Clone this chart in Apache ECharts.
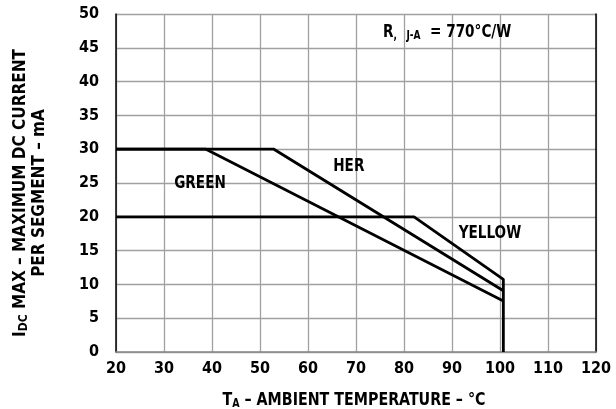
<!DOCTYPE html>
<html><head><meta charset="utf-8">
<script src="https://cdn.jsdelivr.net/npm/echarts@6/dist/echarts.min.js"></script>
<style>html,body{margin:0;padding:0;background:#fff}#c{width:616px;height:409px}</style>
</head><body><div id="c"></div>
<script>
const FONT = "'Liberation Sans Narrow', 'DejaVu Sans Condensed', sans-serif";
const xTicks = [20, 30, 40, 50, 60, 70, 80, 90, 100, 110, 120];
const yTicks = [0, 5, 10, 15, 20, 25, 30, 35, 40, 45, 50];
const herX = [20, 52.9, 100.7];
const herY = [30, 30, 9.07];
const greenX = [20, 38.75, 100.7];
const greenY = [30, 30, 7.54];
const yellowX = [20, 82.1, 100.7, 100.7];
const yellowY = [20, 20, 10.75, 0];
const labels = [
  {name: 'HER', x: 68.5, y: 27.4},
  {name: 'GREEN', x: 37.5, y: 24.9},
  {name: 'YELLOW', x: 97.9, y: 17.6}
];
const rLabelPos = {x: 89, y: 47.3};
const zip = (xs, ys) => xs.map((x, i) => [x, ys[i]]);
const lineStyle = {color: '#000', width: 2.8};
const chart = echarts.init(document.getElementById('c'), null, {renderer: 'canvas'});
chart.setOption({
  animation: false,
  textStyle: {fontFamily: FONT},
  grid: {left: 116, right: 20, top: 14, bottom: 57},
  xAxis: {
    type: 'value', min: xTicks[0], max: xTicks[xTicks.length - 1], interval: 10,
    axisLine: {lineStyle: {color: '#888', width: 1.5}},
    axisTick: {show: false},
    axisLabel: {color: '#000', fontFamily: FONT, fontWeight: 'bold', fontSize: 16, margin: 9},
    splitLine: {lineStyle: {color: '#a0a0a0', width: 1.3}}
  },
  yAxis: [{
    type: 'value', min: yTicks[0], max: yTicks[yTicks.length - 1], interval: 5,
    axisLine: {show: true, lineStyle: {color: '#000', width: 1.5}},
    axisTick: {show: false},
    axisLabel: {color: '#000', fontFamily: FONT, fontWeight: 'bold', fontSize: 16, margin: 17},
    splitLine: {lineStyle: {color: '#a0a0a0', width: 1.3}}
  }, {
    type: 'value', min: 0, max: 50, position: 'right',
    axisLine: {show: true, lineStyle: {color: '#000', width: 1.5}},
    axisTick: {show: false}, axisLabel: {show: false}, splitLine: {show: false}
  }],
  series: [
    {type: 'line', data: zip(herX, herY), symbol: 'none', lineStyle},
    {type: 'line', data: zip(greenX, greenY), symbol: 'none', lineStyle},
    {type: 'line', data: zip(yellowX, yellowY), symbol: 'none', lineStyle}
  ]
});
const px = (x, y) => chart.convertToPixel({gridIndex: 0}, [x, y]);
const bold = (size) => ({fontFamily: FONT, fontWeight: 'bold', fontSize: size, fill: '#000'});
const graphics = labels.map(l => {
  const p = px(l.x, l.y);
  return {type: 'text', x: p[0], y: p[1], scaleX: 0.84, style: Object.assign({
    text: l.name, align: 'center', verticalAlign: 'middle'}, bold(18))};
});
const rp = px(rLabelPos.x, rLabelPos.y);
graphics.push({type: 'text', x: rp[0], y: rp[1], scaleX: 0.84, style: {
  text: '{a|R}{s|,   J-A}{a|  = 770°C/W}', align: 'center', verticalAlign: 'middle',
  rich: {a: bold(18), s: Object.assign(bold(12), {padding: [8, 0, 0, 0]})}
}});
graphics.push({type: 'text', x: 30, y: 193, rotation: Math.PI / 2, scaleX: 1.0, style: {
  text: '{a|I}{s|DC}{a| MAX – MAXIMUM DC CURRENT}\n{a|PER SEGMENT – mA}',
  align: 'center', verticalAlign: 'middle', lineHeight: 19,
  rich: {a: Object.assign(bold(17), {lineHeight: 19}),
         s: Object.assign(bold(12), {padding: [6, 0, 0, 0], lineHeight: 19})}
}});
graphics.push({type: 'text', x: 354, y: 400, scaleX: 0.88, style: {
  text: '{a|T}{s|A}{a| – AMBIENT TEMPERATURE – °C}',
  align: 'center', verticalAlign: 'middle',
  rich: {a: bold(18), s: Object.assign(bold(12), {padding: [8, 0, 0, 0]})}
}});
chart.setOption({graphic: graphics});
</script></body></html>
